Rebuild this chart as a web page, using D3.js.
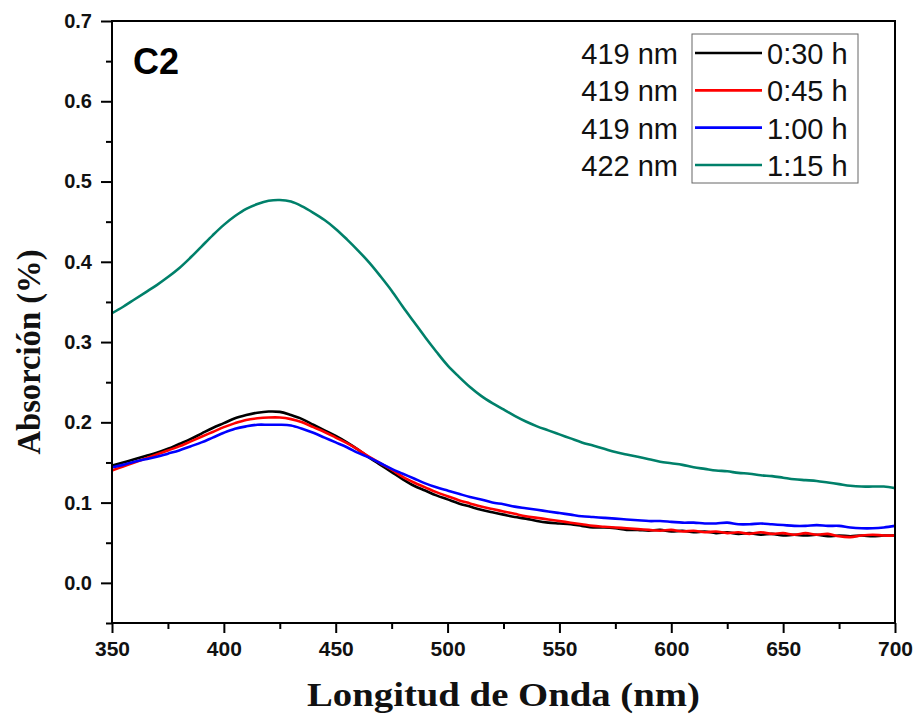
<!DOCTYPE html>
<html>
<head>
<meta charset="utf-8">
<script src="https://cdn.jsdelivr.net/npm/d3@7"></script>
<style>
  html, body { margin: 0; padding: 0; background: #fff; }
  svg { display: block; }
</style>
</head>
<body>
<svg id="chart" width="917" height="724"></svg>
<script>
// Wavelength grid (nm), 5 nm steps
const wavelength = d3.range(350, 701, 5);

// Absorbance spectra for each reaction time
const abs030 = [
  0.146, 0.150, 0.154, 0.158, 0.162, 0.167, 0.173, 0.179, 0.186, 0.193,
  0.199, 0.205, 0.209, 0.212, 0.2135, 0.213, 0.209, 0.204, 0.197, 0.190,
  0.183, 0.175, 0.166, 0.156, 0.147, 0.138, 0.129, 0.121, 0.115, 0.109,
  0.104, 0.099, 0.095, 0.091, 0.088, 0.085, 0.082, 0.080, 0.077, 0.075,
  0.074, 0.073, 0.071, 0.069, 0.069, 0.068, 0.066, 0.066, 0.065, 0.066,
  0.064, 0.065, 0.063, 0.064, 0.062, 0.063, 0.061, 0.062, 0.060, 0.061,
  0.059, 0.060, 0.059, 0.060, 0.058, 0.059, 0.058, 0.059, 0.058, 0.059,
  0.059
];
const abs045 = [
  0.140, 0.145, 0.150, 0.155, 0.160, 0.165, 0.170, 0.176, 0.182, 0.188,
  0.194, 0.199, 0.203, 0.205, 0.206, 0.206, 0.204, 0.200, 0.194, 0.188,
  0.181, 0.174, 0.166, 0.157, 0.149, 0.141, 0.132, 0.125, 0.119, 0.113,
  0.108, 0.103, 0.099, 0.095, 0.092, 0.089, 0.086, 0.083, 0.081, 0.079,
  0.077, 0.075, 0.073, 0.071, 0.070, 0.069, 0.068, 0.067, 0.066, 0.065,
  0.066, 0.064, 0.065, 0.063, 0.064, 0.062, 0.063, 0.061, 0.063, 0.061,
  0.062, 0.060, 0.062, 0.060, 0.061, 0.058, 0.057, 0.059, 0.060, 0.059,
  0.059
];
const abs100 = [
  0.144, 0.147, 0.151, 0.154, 0.157, 0.161, 0.165, 0.170, 0.175, 0.181,
  0.187, 0.192, 0.195, 0.197, 0.197, 0.197, 0.196, 0.192, 0.187, 0.181,
  0.175, 0.169, 0.162, 0.156, 0.149, 0.142, 0.136, 0.130, 0.124, 0.119,
  0.115, 0.111, 0.107, 0.104, 0.100, 0.098, 0.095, 0.093, 0.091, 0.089,
  0.087, 0.085, 0.083, 0.082, 0.081, 0.080, 0.079, 0.078, 0.077, 0.077,
  0.076, 0.075, 0.075, 0.074, 0.074, 0.075, 0.073, 0.073, 0.074, 0.073,
  0.072, 0.071, 0.071, 0.072, 0.071, 0.071, 0.069, 0.068, 0.068, 0.069,
  0.071
];
const abs115 = [
  0.336, 0.344, 0.353, 0.362, 0.371, 0.381, 0.392, 0.405, 0.419, 0.433,
  0.446, 0.457, 0.466, 0.472, 0.476, 0.477, 0.475, 0.469, 0.461, 0.452,
  0.441, 0.428, 0.414, 0.399, 0.382, 0.364, 0.344, 0.325, 0.306, 0.288,
  0.271, 0.257, 0.244, 0.233, 0.224, 0.216, 0.208, 0.201, 0.195, 0.190,
  0.185, 0.180, 0.175, 0.171, 0.167, 0.163, 0.160, 0.157, 0.154, 0.151,
  0.149, 0.147, 0.144, 0.142, 0.140, 0.139, 0.137, 0.136, 0.134, 0.133,
  0.131, 0.129, 0.128, 0.127, 0.125, 0.123, 0.121, 0.120, 0.120, 0.120,
  0.118
];

const seriesTimes = ["0:30 h", "0:45 h", "1:00 h", "1:15 h"];
const seriesPeaks = ["419 nm", "419 nm", "419 nm", "422 nm"];
const seriesColors = ["#000000", "#ff0000", "#0000ff", "#00806a"];
const seriesValues = [abs030, abs045, abs100, abs115];

const xTicks = [350, 400, 450, 500, 550, 600, 650, 700];
const yTicks = [0.0, 0.1, 0.2, 0.3, 0.4, 0.5, 0.6, 0.7];

const svg = d3.select("#chart");
const box = { left: 112, right: 895, top: 21, bottom: 623 };

const x = d3.scaleLinear().domain([350, 700]).range([box.left, box.right]);
const y = d3.scaleLinear().domain([-0.05, 0.7]).range([box.bottom, box.top]);

// Curves
const line = d3.line()
  .x((d, i) => x(wavelength[i]))
  .y(d => y(d))
  .curve(d3.curveCatmullRom.alpha(0.5));

const plot = svg.append("g");
plot.append("defs").append("clipPath").attr("id", "clip")
  .append("rect").attr("x", box.left).attr("y", box.top)
  .attr("width", box.right - box.left).attr("height", box.bottom - box.top);

seriesValues.forEach((vals, k) => {
  plot.append("path")
    .datum(vals)
    .attr("clip-path", "url(#clip)")
    .attr("fill", "none")
    .attr("stroke", seriesColors[k])
    .attr("stroke-width", 2.6)
    .attr("stroke-linejoin", "round")
    .attr("d", line);
});

// Frame
svg.append("rect")
  .attr("x", box.left).attr("y", box.top)
  .attr("width", box.right - box.left).attr("height", box.bottom - box.top)
  .attr("fill", "none").attr("stroke", "#000").attr("stroke-width", 2);

// Bottom axis
const xAxis = d3.axisBottom(x).tickValues(xTicks).tickSize(10).tickPadding(8)
  .tickFormat(d3.format("d"));
const gx = svg.append("g").attr("transform", `translate(0,${box.bottom})`).call(xAxis);
gx.select(".domain").remove();
gx.selectAll(".tick line").attr("stroke", "#000").attr("stroke-width", 2);
gx.selectAll(".tick text")
  .attr("font-family", "Liberation Sans, Arial, sans-serif")
  .attr("font-weight", "bold").attr("font-size", 21).attr("fill", "#111");

const xMinor = d3.axisBottom(x).tickValues(d3.range(375, 700, 50)).tickSize(6).tickFormat("");
const gxm = svg.append("g").attr("transform", `translate(0,${box.bottom})`).call(xMinor);
gxm.select(".domain").remove();
gxm.selectAll(".tick line").attr("stroke", "#000").attr("stroke-width", 2);

// Left axis
const yAxis = d3.axisLeft(y).tickValues(yTicks).tickSize(11).tickPadding(9)
  .tickFormat(d3.format(".1f"));
const gy = svg.append("g").attr("transform", `translate(${box.left},0)`).call(yAxis);
gy.select(".domain").remove();
gy.selectAll(".tick line").attr("stroke", "#000").attr("stroke-width", 2);
gy.selectAll(".tick text")
  .attr("font-family", "Liberation Sans, Arial, sans-serif")
  .attr("font-weight", "bold").attr("font-size", 20).attr("fill", "#111");

const yMinor = d3.axisLeft(y).tickValues([-0.05, 0.05, 0.15, 0.25, 0.35, 0.45, 0.55, 0.65]).tickSize(6).tickFormat("");
const gym = svg.append("g").attr("transform", `translate(${box.left},0)`).call(yMinor);
gym.select(".domain").remove();
gym.selectAll(".tick line").attr("stroke", "#000").attr("stroke-width", 2);

// Axis titles
svg.append("text")
  .attr("x", (box.left + box.right) / 2).attr("y", 706)
  .attr("text-anchor", "middle")
  .attr("font-family", "Liberation Serif, Times New Roman, serif")
  .attr("font-weight", "bold").attr("font-size", 33)
  .attr("textLength", 393).attr("lengthAdjust", "spacingAndGlyphs")
  .attr("fill", "#111")
  .text("Longitud de Onda (nm)");

svg.append("text")
  .attr("transform", "translate(40,352) rotate(-90)")
  .attr("text-anchor", "middle")
  .attr("font-family", "Liberation Serif, Times New Roman, serif")
  .attr("font-weight", "bold").attr("font-size", 33)
  .attr("textLength", 205).attr("lengthAdjust", "spacingAndGlyphs")
  .attr("fill", "#111")
  .text("Absorción (%)");

// Panel label
svg.append("text")
  .attr("x", 133).attr("y", 74)
  .attr("font-family", "Liberation Sans, Arial, sans-serif")
  .attr("font-weight", "bold").attr("font-size", 36)
  .attr("fill", "#000")
  .text("C2");

// Legend
const legend = svg.append("g");
legend.append("rect")
  .attr("x", 692).attr("y", 34).attr("width", 166).attr("height", 149)
  .attr("fill", "#fff").attr("stroke", "#666").attr("stroke-width", 1);

const rowY = d3.scalePoint().domain(d3.range(seriesTimes.length)).range([53, 165]);
seriesTimes.forEach((t, k) => {
  const cy = rowY(k);
  legend.append("line")
    .attr("x1", 695).attr("x2", 762).attr("y1", cy).attr("y2", cy)
    .attr("stroke", seriesColors[k]).attr("stroke-width", 2.6);
  legend.append("text")
    .attr("x", 767).attr("y", cy + 11)
    .attr("font-family", "Liberation Sans, Arial, sans-serif")
    .attr("font-size", 29).attr("fill", "#111")
    .text(t);
  legend.append("text")
    .attr("x", 678).attr("y", cy + 11)
    .attr("text-anchor", "end")
    .attr("font-family", "Liberation Sans, Arial, sans-serif")
    .attr("font-size", 29).attr("fill", "#111")
    .text(seriesPeaks[k]);
});
</script>
</body>
</html>
